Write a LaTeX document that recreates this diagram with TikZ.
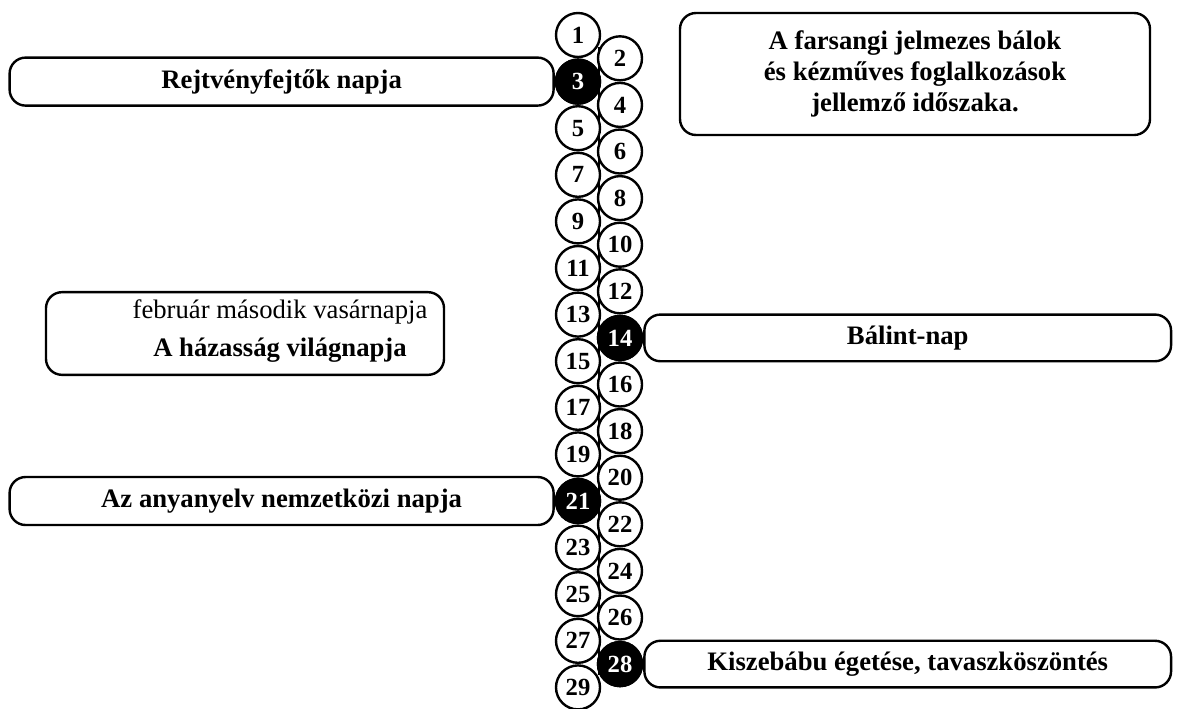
\documentclass[tikz,border=0pt]{standalone}
\usepackage{fontspec}
\setmainfont{Liberation Serif}
\usetikzlibrary{positioning,calc}

\def\daystep{23.3}

\begin{document}
\begin{tikzpicture}[x=0.75pt,y=-0.75pt,line width=1.8pt]
    \tikzstyle{day}=[circle,draw=black,fill=white,minimum size=33pt,inner sep=0pt,font=\fontsize{18.5}{18.5}\selectfont\bfseries]
    \tikzstyle{black day}=[day,fill=black,text=white]
    \tikzstyle{event}=[draw=black,fill=white,rounded corners=12pt,inner sep=0pt,font=\fontsize{20}{23}\selectfont\bfseries,align=center]
    \tikzstyle{left event}=[event,minimum width=408pt,minimum height=36pt]
    \tikzstyle{right event}=[event,minimum width=395pt,minimum height=35pt]
    \tikzstyle{caption}=[inner sep=0pt,align=center]

    \useasboundingbox (0,0) rectangle (1184,708);

    % the line behind the days
    \path (578,35) coordinate (top) (578,{35+28*\daystep}) coordinate (bottom);
    \draw ($(top)+(21,12)$) -- ($(bottom)+(21,-12)$);

    % days of the month, odd ones left, even ones right
    \foreach \n in {1,3,...,29}
        \node[day] (D-\n) at (578,{35+(\n-1)*\daystep}) {\n};
    \foreach \n in {2,4,...,28}
        \node[day] (D-\n) at (620,{35+(\n-1)*\daystep}) {\n};

    \foreach \n in {3,14,21,28}
        \node[black day] at (D-\n) {\n};

    % events
    \node[left event,left=0pt of D-3] (E-3) {Rejtvényfejtők napja};
    \node[left event,left=0pt of D-21] (E-21) {Az anyanyelv nemzetközi napja};
    \node[right event,right=0pt of D-14] (E-14) {Bálint-nap};
    \node[right event,right=0pt of D-28] (E-28) {Kiszebábu égetése, tavaszköszöntés};

    \node[event,minimum width=352.5pt,minimum height=91.5pt] (farsang) at (915,74)
        {A farsangi jelmezes bálok\\és kézműves foglalkozások\\jellemző időszaka.};
    \node[event,minimum width=298.5pt,minimum height=62pt] (hazassag) at (245,333.5) {};
    \node[caption,font=\fontsize{20}{28.5}\selectfont] (hazassag-text) at ($(hazassag)+(35,-2)$)
        {február második vasárnapja\\\textbf{A házasság világnapja}};
\end{tikzpicture}
\end{document}
